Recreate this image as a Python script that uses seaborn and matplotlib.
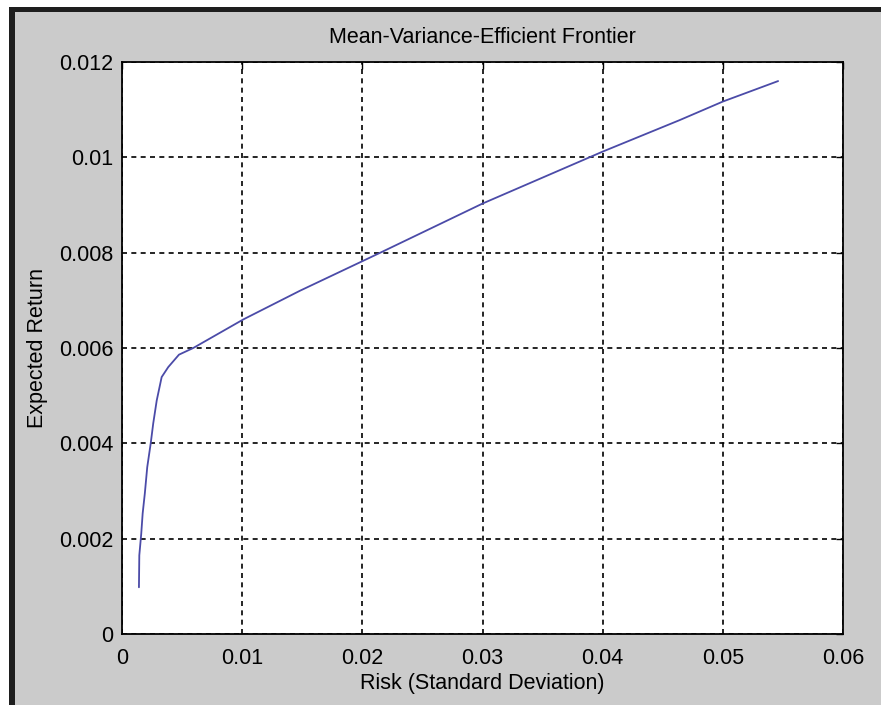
import matplotlib
matplotlib.use("Agg")
import matplotlib.pyplot as plt
import seaborn as sns
import pandas as pd
from matplotlib.patches import Rectangle

risk = [0.00141, 0.00144, 0.0016, 0.00172, 0.0019, 0.0021, 0.00239, 0.0026,
        0.00289, 0.0033, 0.00385, 0.00474, 0.00593, 0.0101, 0.0148, 0.0215,
        0.030, 0.040, 0.0464, 0.050, 0.0546]
ret = [0.00098, 0.00165, 0.0021, 0.00253, 0.00295, 0.0035, 0.0040, 0.00442,
       0.0049, 0.00539, 0.0056, 0.00586, 0.0060, 0.0066, 0.0072, 0.0080,
       0.00903, 0.01012, 0.01078, 0.01117, 0.0116]
xticks = [0, 0.01, 0.02, 0.03, 0.04, 0.05, 0.06]
xticklabels = ["0", "0.01", "0.02", "0.03", "0.04", "0.05", "0.06"]
yticks = [0, 0.002, 0.004, 0.006, 0.008, 0.01, 0.012]
yticklabels = ["0", "0.002", "0.004", "0.006", "0.008", "0.01", "0.012"]

sns.set_theme(style="white")
plt.rcParams["font.family"] = ["Liberation Sans", "DejaVu Sans"]

fs = 15.5
bg = "#CBCBCB"
fig = plt.figure(figsize=(8.81, 7.05), dpi=100, facecolor=bg)
W, H = 881, 705
ax = fig.add_axes([122 / W, (H - 634) / H, (843 - 122) / W, (634 - 62) / H])
ax.set_facecolor("white")

df = pd.DataFrame({"risk": risk, "ret": ret})
sns.lineplot(data=df, x="risk", y="ret", sort=False, ax=ax,
             color="#4B4BA8", linewidth=1.3)

ax.set_xlim(0, 0.06)
ax.set_ylim(0, 0.012)
ax.set_xticks(xticks)
ax.set_xticklabels(xticklabels)
ax.set_yticks(yticks)
ax.set_yticklabels(yticklabels)
ax.grid(True, color="black", linestyle=(0, (3, 2.6)), linewidth=1.2)
ax.tick_params(axis="both", direction="in", length=5, width=1, colors="black",
               labelsize=fs, top=True, right=True)
ax.tick_params(axis="x", pad=10)
ax.tick_params(axis="y", pad=6)
for s in ax.spines.values():
    s.set_visible(True)
    s.set_color("black")
    s.set_linewidth(1.3)

ax.set_title("Mean-Variance-Efficient Frontier", fontsize=fs, pad=14, color="black")
ax.set_xlabel("Risk (Standard Deviation)", fontsize=fs, labelpad=3, color="black")
ax.set_ylabel("Expected Return", fontsize=fs, labelpad=8, color="black")

# window frame
fig.patches.append(Rectangle((0, 0), 9 / W, 1, transform=fig.transFigure,
                             facecolor="white", edgecolor="none", zorder=-1))
fig.patches.append(Rectangle((0, 1 - 7 / H), 1, 7 / H, transform=fig.transFigure,
                             facecolor="white", edgecolor="none", zorder=-1))
fig.patches.append(Rectangle((9 / W, 0), 6 / W, 1 - 7 / H, transform=fig.transFigure,
                             facecolor="#1E1E1E", edgecolor="none", zorder=-1))
fig.patches.append(Rectangle((9 / W, 1 - 12 / H), 1, 5 / H, transform=fig.transFigure,
                             facecolor="#1E1E1E", edgecolor="none", zorder=-1))

fig.savefig("out.png", dpi=100, facecolor=bg)
